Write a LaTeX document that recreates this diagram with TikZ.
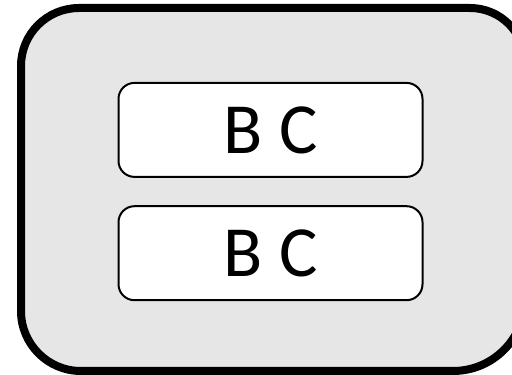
\documentclass[tikz,border=0pt]{standalone}
\usepackage{fontspec}
\setmainfont{Carlito}
\definecolor{panelgray}{RGB}{230,230,230}
\tikzset{
  panel/.style={draw=black, line width=8pt, fill=panelgray},
  itembox/.style={draw=black, line width=2pt, fill=white, rounded corners=16pt,
    minimum width=304pt, minimum height=94pt, inner sep=0pt,
    font=\fontsize{72}{86}\selectfont}
}
\begin{document}
\begin{tikzpicture}[x=1pt, y=1pt]
  \useasboundingbox (0,0) rectangle (512,375);
  \begin{scope}
    \clip (0,0) rectangle (512,375);
    % outer container, running past the right and bottom edges
    \path[panel] (79,367) -- (470,367) arc[start angle=90, end angle=0, radius=55]
      -- (525,76) arc[start angle=0, end angle=-90, radius=72]
      -- (81,4) arc[start angle=-90, end angle=-180, radius=60]
      -- (21,309) arc[start angle=180, end angle=90, radius=58] -- cycle;
  \end{scope}
  % the two entries inside it
  \node[itembox] (top) at (270.5,245.1) {B C};
  \node[itembox] (bottom) at (270.5,121.8) {B C};
\end{tikzpicture}
\end{document}
